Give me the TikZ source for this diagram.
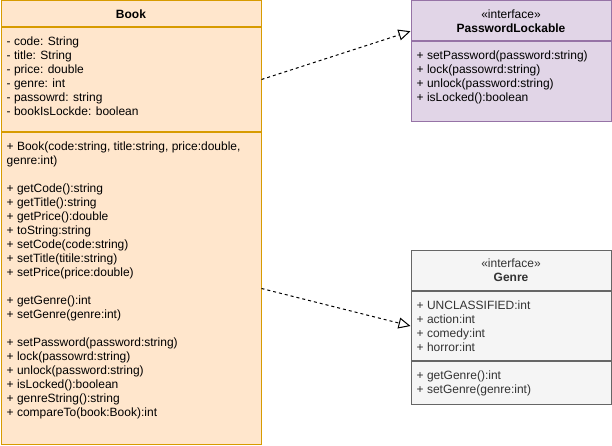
\documentclass[tikz,border=0pt]{standalone}
\usepackage{fontspec}
\setmainfont{Liberation Sans}
\usepackage{xcolor}
\usetikzlibrary{arrows.meta}
\definecolor{bookfill}{RGB}{255, 230, 204}
\definecolor{bookline}{RGB}{215, 155, 0}
\definecolor{lockfill}{RGB}{225, 213, 231}
\definecolor{lockline}{RGB}{150, 115, 166}
\definecolor{genrefill}{RGB}{245, 245, 245}
\definecolor{genreline}{RGB}{102, 102, 102}
\definecolor{genretext}{RGB}{51, 51, 51}

\begin{document}
\begin{tikzpicture}[x=1pt, y=-1pt,
    classpart/.style={draw, line width=1pt, rectangle, inner sep=0pt, anchor=north west,
        align=center, font=\fontsize{12}{14}\selectfont},
    bookpart/.style={classpart, fill=bookfill, draw=bookline, minimum width=260pt},
    lockpart/.style={classpart, fill=lockfill, draw=lockline, minimum width=200pt},
    genrepart/.style={classpart, fill=genrefill, draw=genreline, text=genretext, minimum width=200pt},
    members/.style={anchor=north west, inner sep=0pt, align=left, font=\fontsize{12}{14}\selectfont},
    realize/.style={draw=black, line width=1pt, dash pattern=on 3pt off 3pt,
        -{Triangle[open, length=12pt, width=11pt]}}]
    % Rahmen wie das Original (612 x 446)
    \useasboundingbox (0,0) rectangle (612,446);

    % Klasse Book (Kopf, Attribute, Methoden)
    \node[bookpart, minimum height=25.5pt] (bookhead) at (0.5,0.5) {\textbf{Book}};
    \node[bookpart, minimum height=104pt] (bookattr) at (bookhead.south west) {};
    \node[bookpart, minimum height=312pt] (bookops) at (bookattr.south west) {};

    \node[members] (bookattrtxt) at ([shift={(6,8.2)}]bookattr.north west)
        {\strut- code: String\\- title: String\\- price: double\\- genre: int\\
         - passowrd: string\\- bookIsLockde: boolean};
    \node[members] (bookopstxt) at ([shift={(6,8.2)}]bookops.north west)
        {\strut+ Book(code:string, title:string, price:double,\\genre:int)\\[14pt]
         + getCode():string\\+ getTitle():string\\+ getPrice():double\\+ toString:string\\
         + setCode(code:string)\\+ setTitle(titile:string)\\+ setPrice(price:double)\\[14pt]
         + getGenre():int\\+ setGenre(genre:int)\\[14pt]
         + setPassword(password:string)\\+ lock(passowrd:string)\\+ unlock(password:string)\\
         + isLocked():boolean\\+ genreString():string\\+ compareTo(book:Book):int};

    % Interface PasswordLockable
    \node[lockpart, minimum height=39.5pt] (lockhead) at (410.5,0.5)
        {«interface»\\\textbf{PasswordLockable}};
    \node[lockpart, minimum height=80pt] (lockops) at (lockhead.south west) {};

    \node[members] (lockopstxt) at ([shift={(6,8.2)}]lockops.north west)
        {\strut+ setPassword(password:string)\\+ lock(passowrd:string)\\
         + unlock(password:string)\\+ isLocked():boolean};

    % Interface Genre
    \node[genrepart, minimum height=40pt] (genrehead) at (410.5,250)
        {«interface»\\\textbf{Genre}};
    \node[genrepart, minimum height=69pt] (genreattr) at (genrehead.south west) {};
    \node[genrepart, minimum height=43pt] (genreops) at (genreattr.south west) {};

    \node[members, text=genretext] (genreattrtxt) at ([shift={(6,8.2)}]genreattr.north west)
        {\strut+ UNCLASSIFIED:int\\+ action:int\\+ comedy:int\\+ horror:int};
    \node[members, text=genretext] (genreopstxt) at ([shift={(6,8.2)}]genreops.north west)
        {\strut+ getGenre():int\\+ setGenre(genre:int)};

    % Realisierungen (gestrichelt, offenes Dreieck)
    \draw[realize] (bookattr.east) -- ([yshift=-10.5pt]lockhead.west);
    \draw[realize] (bookops.east) -- (genreattr.west);
\end{tikzpicture}
\end{document}
